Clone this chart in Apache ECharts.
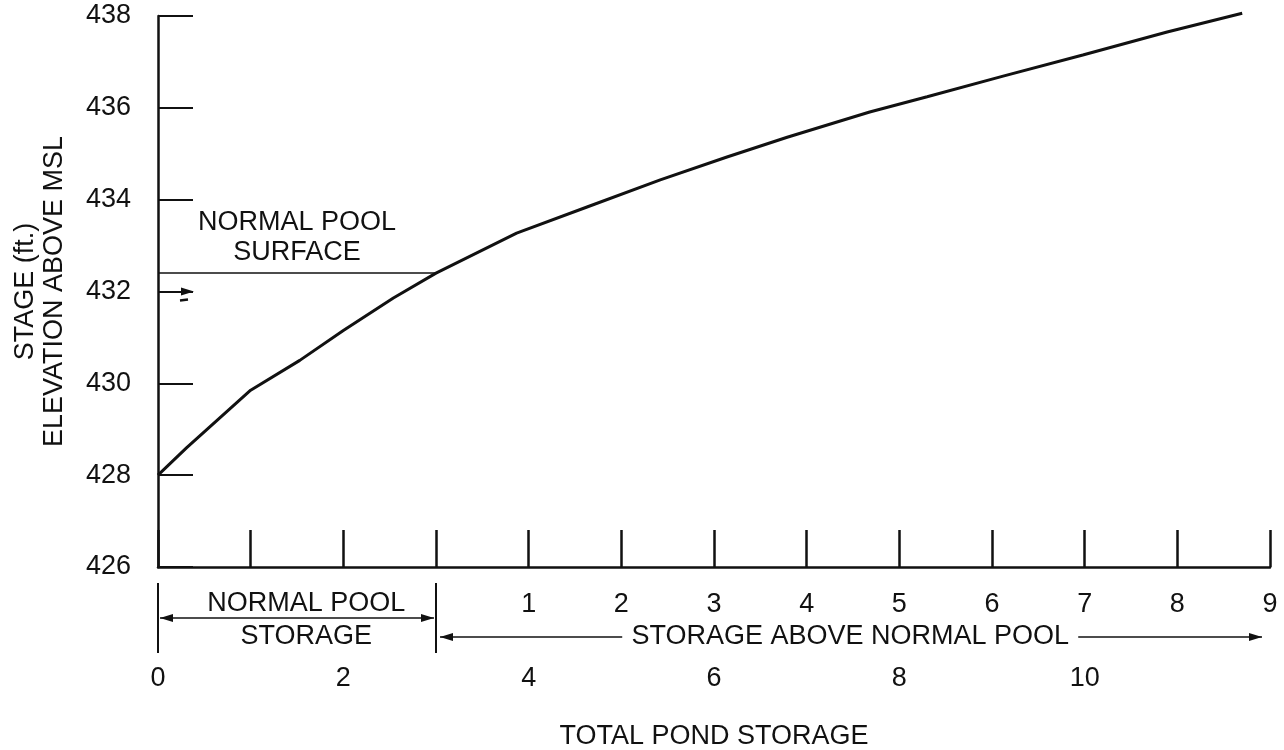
<!DOCTYPE html>
<html>
<head>
<meta charset="utf-8">
<script src="https://cdn.jsdelivr.net/npm/echarts@6/dist/echarts.min.js"></script>
<style>
html, body { margin: 0; padding: 0; background: #fff; }
#chart { width: 1284px; height: 750px; }
</style>
</head>
<body>
<div id="chart"></div>
<script>
// total pond storage vs stage
var storage = [0, 0.31, 0.64, 1.0, 1.53, 2.0, 2.54, 3.0, 3.87, 4.63, 5.42, 6.14, 6.79, 7.68, 8.30, 9.12, 9.98, 10.89, 11.70];
var stage   = [428.0, 428.6, 429.2, 429.85, 430.5, 431.15, 431.86, 432.4, 433.27, 433.84, 434.43, 434.93, 435.36, 435.91, 436.24, 436.69, 437.15, 437.65, 438.06];

var totalLabels = [0, 2, 4, 6, 8, 10];
var aboveLabels = [1, 2, 3, 4, 5, 6, 7, 8, 9];
var normalPoolStorage = 3;
var normalPoolStage = 432.4;
var maxStorage = 12;

var FONT = 'Liberation Sans';
var INK = '#111';

var chart = echarts.init(document.getElementById('chart'));

var curve = storage.map(function (s, i) { return [s, stage[i]]; });

var option = {
  animation: false,
  backgroundColor: '#fff',
  textStyle: { fontFamily: FONT, color: INK },
  grid: { left: 158, right: 14, top: 16, bottom: 183, outerBoundsMode: 'none' },
  xAxis: [
    {
      type: 'value', min: 0, max: maxStorage, interval: 1,
      splitLine: { show: false },
      axisLine: { lineStyle: { color: INK, width: 2.5 } },
      axisTick: { inside: true, length: 37, lineStyle: { color: INK, width: 2.5 } },
      axisLabel: {
        margin: 98, fontSize: 27, color: INK, fontFamily: FONT,
        formatter: function (v) { return totalLabels.indexOf(v) >= 0 ? String(v) : ''; }
      },
      name: 'TOTAL POND STORAGE', nameLocation: 'middle', nameGap: 156,
      nameTextStyle: { fontSize: 27, color: INK, fontFamily: FONT }
    },
    {
      // storage above normal pool, same scale shifted by the normal pool volume
      type: 'value', position: 'bottom',
      min: -normalPoolStorage, max: maxStorage - normalPoolStorage, interval: 1,
      splitLine: { show: false },
      axisLine: { show: false },
      axisTick: { show: false },
      axisLabel: {
        margin: 24, fontSize: 27, color: INK, fontFamily: FONT,
        formatter: function (v) { return aboveLabels.indexOf(v) >= 0 ? String(v) : ''; }
      }
    }
  ],
  yAxis: {
    type: 'value', min: 426, max: 438, interval: 2,
    splitLine: { show: false },
    axisLine: { lineStyle: { color: INK, width: 2.5 } },
    axisTick: { inside: true, length: 35, lineStyle: { color: INK, width: 2 } },
    axisLabel: { margin: 27, fontSize: 27, color: INK, fontFamily: FONT },
    name: 'STAGE (ft.)\nELEVATION ABOVE MSL', nameLocation: 'middle', nameGap: 89,
    nameTextStyle: { fontSize: 27, lineHeight: 29, color: INK, fontFamily: FONT, align: 'center' }
  },
  series: [{
    type: 'line',
    data: curve,
    clip: false,
    symbol: 'none',
    lineStyle: { color: INK, width: 3 },
    markLine: {
      silent: true,
      symbol: 'none',
      lineStyle: { color: INK, width: 1.5, type: 'solid' },
      label: {
        show: true, position: 'middle', distance: 6,
        formatter: 'NORMAL POOL\nSURFACE',
        fontSize: 27, lineHeight: 30, color: INK, fontFamily: FONT
      },
      data: [[{ coord: [0, normalPoolStage] }, { coord: [normalPoolStorage, normalPoolStage] }]]
    }
  }]
};

chart.setOption(option);

// annotations under the axis, placed through the axis scale
function px(x, y) { return chart.convertToPixel({ xAxisIndex: 0, yAxisIndex: 0 }, [x, y]); }

var base = px(0, 426)[1];
var x0 = px(0, 426)[0];
var x3 = px(normalPoolStorage, 426)[0];
var xEnd = px(maxStorage, 426)[0];
var rowTop = base + 16, rowBottom = base + 86;
var row1 = base + 37, arrow1 = base + 51, row2 = base + 70;

function arrowHead(x, y, dir) {
  return { type: 'polygon', shape: { points: [[x, y], [x - dir * 13, y - 4], [x - dir * 13, y + 4]] }, style: { fill: INK } };
}
function seg(xa, ya, xb, yb, w) {
  return { type: 'line', shape: { x1: xa, y1: ya, x2: xb, y2: yb }, style: { stroke: INK, lineWidth: w || 1.5 } };
}
function label(text, x, y) {
  return { type: 'text', x: x, y: y, style: { text: text, fontSize: 27, fontFamily: FONT, fill: INK, align: 'center', verticalAlign: 'middle' } };
}

var xNormalText = px(1.6, 426)[0];
var xAboveText = px(7.47, 426)[0];
var aboveHalf = 226;

// small water-surface mark on the 432 tick
var t432 = px(0, 432);

chart.setOption({
  graphic: [
    seg(x0, rowTop, x0, rowBottom, 2),
    seg(x3, rowTop, x3, rowBottom, 2),
    seg(x0 + 2, arrow1, x3 - 2, arrow1),
    arrowHead(x0 + 2, arrow1, -1),
    arrowHead(x3 - 2, arrow1, 1),
    label('NORMAL POOL', xNormalText, row1),
    label('STORAGE', xNormalText, row2),
    seg(x3 + 4, row2, xAboveText - aboveHalf - 2, row2),
    arrowHead(x3 + 4, row2, -1),
    label('STORAGE ABOVE NORMAL POOL', xAboveText, row2),
    seg(xAboveText + aboveHalf + 2, row2, xEnd - 8, row2),
    arrowHead(xEnd - 8, row2, 1),
    arrowHead(t432[0] + 36, t432[1], 1),
    seg(t432[0] + 22, t432[1] + 9, t432[0] + 30, t432[1] + 8, 2.5)
  ]
});
</script>
</body>
</html>
